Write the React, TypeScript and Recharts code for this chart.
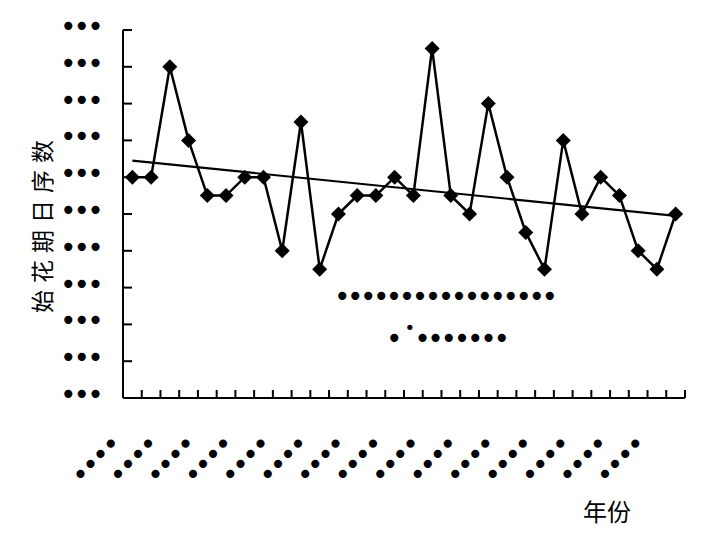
import React from "react";
import { ComposedChart, Line, XAxis, YAxis } from "recharts";

// 始花期日序数, one value per year (30 years)
const ONSET_DAY = [
  82, 82, 88, 84, 81, 81, 82, 82, 78, 85,
  77, 80, 81, 81, 82, 81, 89, 81, 80, 86,
  82, 79, 77, 84, 80, 82, 81, 78, 77, 80,
];
// linear trend, value at first and last year
const TREND_ENDS = [82.9, 79.9];

const Y_TICKS = [70, 72, 74, 76, 78, 80, 82, 84, 86, 88, 90];
const X_TICKS = Array.from({ length: 31 }, (_, i) => i);
const Y_TICK_LABEL = "•••";
const X_TICK_LABEL = "••••";
const EQ_LINE = "•••••••••••••••••";
const R2_HEAD = "•";
const R2_SUP = "•";
const R2_TAIL = "•••••••";

const DOT_FONT = "'DejaVu Sans', sans-serif";
const CJK_FONT = "'Noto Sans CJK SC', sans-serif";
const DOT_SIZE = 28;

const data = ONSET_DAY.map((v, i) => ({
  x: i + 0.5,
  day: v,
  trend: i === 0 ? TREND_ENDS[0] : i === ONSET_DAY.length - 1 ? TREND_ENDS[1] : null,
}));

const Diamond = (props: any) => {
  const { cx, cy } = props;
  if (cx == null || cy == null) return null;
  const r = 7.5;
  return (
    <polygon
      points={`${cx},${cy - r} ${cx + r},${cy} ${cx},${cy + r} ${cx - r},${cy}`}
      fill="#000"
    />
  );
};

const XTick = (props: any) => {
  const { x, y, payload } = props;
  const v = payload.value;
  const showLabel = v % 2 === 0 && v < 30;
  const lx = x - 41;
  const ly = y + 89;
  return (
    <g>
      {v > 0 && <line x1={x} x2={x} y1={y} y2={y - 8} stroke="#000" strokeWidth={2} />}
      {showLabel && (
        <text
          x={lx}
          y={ly}
          transform={`rotate(-45, ${lx}, ${ly})`}
          fontSize={DOT_SIZE}
          letterSpacing={-2.3}
          fontFamily={DOT_FONT}
          fill="#000"
        >
          {X_TICK_LABEL}
        </text>
      )}
    </g>
  );
};

const YTick = (props: any) => {
  const { x, y } = props;
  return (
    <g>
      <line x1={x} x2={x + 9} y1={y} y2={y} stroke="#000" strokeWidth={2} />
      <text x={x - 63} y={y + 6} fontSize={DOT_SIZE} letterSpacing={-2.9} fontFamily={DOT_FONT} fill="#000">
        {Y_TICK_LABEL}
      </text>
    </g>
  );
};

export default function App() {
  return (
    <div style={{ position: "absolute", left: 0, top: 0, width: 701, height: 539, background: "#fff" }}>
      <ComposedChart
        width={701}
        height={539}
        data={data}
        margin={{ top: 30, right: 16, bottom: 140, left: 122 }}
      >
        <XAxis
          type="number"
          dataKey="x"
          domain={[0, 30]}
          ticks={X_TICKS}
          interval={0}
          height={1}
          tickSize={0}
          tickMargin={0}
          tickLine={false}
          tick={<XTick />}
          axisLine={{ stroke: "#000", strokeWidth: 2 }}
          allowDecimals={false}
        />
        <YAxis
          type="number"
          domain={[70, 90]}
          ticks={Y_TICKS}
          interval={0}
          width={1}
          tickSize={0}
          tickMargin={0}
          tickLine={false}
          tick={<YTick />}
          axisLine={{ stroke: "#000", strokeWidth: 2 }}
        />
        <Line
          dataKey="trend"
          connectNulls
          stroke="#000"
          strokeWidth={2.2}
          dot={false}
          activeDot={false}
          isAnimationActive={false}
        />
        <Line
          dataKey="day"
          stroke="#000"
          strokeWidth={2.5}
          dot={<Diamond />}
          activeDot={false}
          isAnimationActive={false}
        />
      </ComposedChart>
      <svg
        width={701}
        height={539}
        style={{ position: "absolute", left: 0, top: 0, pointerEvents: "none" }}
      >
        <text
          transform="translate(41, 223) rotate(-90)"
          textAnchor="middle"
          dominantBaseline="central"
          fontSize={23}
          letterSpacing={7}
          fontFamily={CJK_FONT}
          fill="#000"
        >
          始花期日序数
        </text>
        <text x={583} y={521} fontSize={24} fontFamily={CJK_FONT} fill="#000">
          年份
        </text>
        <text x={334} y={306} fontSize={DOT_SIZE} letterSpacing={-3.55} fontFamily={DOT_FONT} fill="#000">
          {EQ_LINE}
        </text>
        <text x={386} y={348} fontSize={DOT_SIZE} fontFamily={DOT_FONT} fill="#000">
          {R2_HEAD}
          <tspan fontSize={18} dx={2} dy={-14}>
            {R2_SUP}
          </tspan>
          <tspan fontSize={DOT_SIZE} dx={-1} dy={14} letterSpacing={-3.3}>
            {R2_TAIL}
          </tspan>
        </text>
      </svg>
    </div>
  );
}
